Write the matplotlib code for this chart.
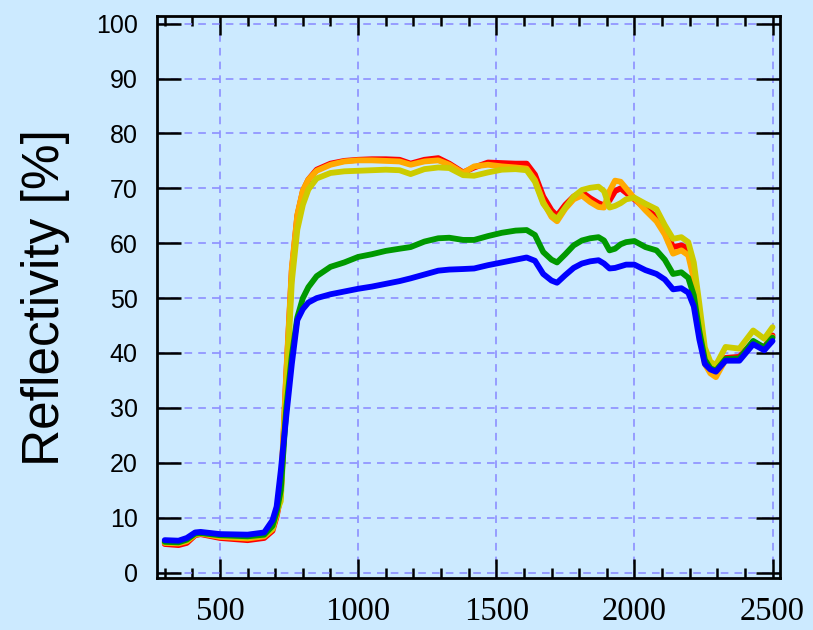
import matplotlib
matplotlib.use("Agg")
import matplotlib.pyplot as plt
from matplotlib.ticker import MultipleLocator

wavelength = [300, 350, 380, 410, 430, 500, 600, 660, 690, 705, 720, 740, 760, 780, 800,
              820, 850, 900, 950, 1000, 1050, 1100, 1150, 1190, 1240, 1290, 1330, 1380,
              1420, 1470, 1520, 1570, 1610, 1640, 1670, 1700, 1720, 1750, 1780, 1810,
              1840, 1870, 1890, 1910, 1930, 1950, 1970, 2000, 2040, 2080, 2110, 2140,
              2170, 2195, 2215, 2235, 2255, 2275, 2295, 2330, 2380, 2430, 2470, 2500]

red = [5.2, 5.0, 5.4, 6.8, 7.0, 6.3, 5.9, 6.3, 7.6, 10.2, 14.0, 36.0, 55.0, 65.0, 69.5,
       71.6, 73.4, 74.5, 75.0, 75.2, 75.3, 75.3, 75.2, 74.5, 75.2, 75.5, 74.5, 72.9,
       73.8, 74.7, 74.6, 74.5, 74.5, 72.5, 68.5, 66.0, 65.0, 67.0, 68.5, 69.3,
       68.2, 67.3, 66.9, 67.8, 69.5, 70.0, 69.2, 68.0, 66.4, 64.7, 62.6, 59.3,
       59.6, 59.0, 54.5, 44.5, 38.5, 37.0, 36.4, 39.1, 39.3, 42.0, 41.0, 43.2]

orange = [5.4, 5.3, 5.7, 6.9, 7.1, 6.5, 6.2, 6.6, 7.9, 10.5, 14.5, 36.5, 55.5, 65.2, 69.6,
          71.6, 73.2, 74.3, 74.9, 75.1, 75.1, 75.0, 74.9, 74.3, 74.9, 75.1, 74.3, 72.8,
          74.0, 74.3, 74.0, 73.8, 73.6, 71.5, 67.5, 64.8, 64.0, 66.3, 68.0, 68.7,
          67.5, 66.6, 66.5, 69.5, 71.4, 71.2, 70.0, 68.2, 66.0, 64.0, 61.6, 58.1,
          58.7, 57.8, 53.5, 44.0, 38.0, 36.3, 35.6, 38.8, 38.9, 41.8, 40.8, 42.9]

yellow = [5.5, 5.4, 5.9, 7.0, 7.2, 6.7, 6.4, 6.8, 8.0, 11.0, 13.0, 33.0, 53.0, 62.5, 67.0,
          69.8, 71.8, 72.8, 73.1, 73.2, 73.3, 73.4, 73.3, 72.6, 73.5, 73.8, 73.7, 72.4,
          72.3, 72.9, 73.4, 73.5, 73.3, 71.2, 67.2, 65.2, 64.4, 66.5, 68.5, 69.7,
          70.1, 70.3, 69.5, 66.5, 66.8, 67.3, 68.0, 68.3, 67.2, 66.2, 63.3, 60.8,
          61.1, 60.2, 56.5, 49.0, 41.0, 38.4, 37.8, 41.1, 40.8, 44.1, 42.6, 44.7]

green = [5.6, 5.5, 6.0, 7.1, 7.2, 6.8, 6.6, 6.9, 8.5, 11.0, 15.0, 30.0, 39.5, 46.5, 50.0,
         52.0, 54.0, 55.7, 56.5, 57.5, 58.0, 58.6, 59.0, 59.3, 60.3, 60.9, 61.0, 60.6,
         60.6, 61.3, 61.9, 62.3, 62.4, 61.5, 58.4, 57.0, 56.5, 58.0, 59.6, 60.5,
         60.9, 61.1, 60.5, 58.7, 59.0, 59.8, 60.2, 60.4, 59.3, 58.7, 57.0, 54.4,
         54.7, 53.7, 50.5, 44.0, 38.8, 37.2, 36.8, 38.9, 39.0, 42.2, 41.0, 42.8]

blue = [5.9, 5.8, 6.3, 7.3, 7.4, 7.0, 6.9, 7.3, 9.5, 12.0, 18.5, 28.5, 38.0, 46.0, 48.0,
        49.2, 50.0, 50.7, 51.2, 51.7, 52.1, 52.6, 53.1, 53.6, 54.3, 55.0, 55.2, 55.3,
        55.4, 56.0, 56.5, 57.0, 57.4, 56.8, 54.4, 53.2, 52.8, 54.2, 55.5, 56.3,
        56.7, 56.9, 56.3, 55.4, 55.5, 55.8, 56.1, 56.1, 55.1, 54.4, 53.4, 51.6,
        51.8, 51.0, 48.5, 42.5, 38.0, 37.0, 36.6, 38.6, 38.6, 41.6, 40.5, 42.2]

series = [(red, "#ff0000"), (orange, "#ffaa00"), (yellow, "#cccc00"),
          (green, "#009900"), (blue, "#0000ff")]

x_ticks = [500, 1000, 1500, 2000, 2500]
y_ticks = [0, 10, 20, 30, 40, 50, 60, 70, 80, 90, 100]

bg = "#cceaff"
fig = plt.figure(figsize=(8.13, 6.30), dpi=100, facecolor=bg)
ax = fig.add_axes([0.1931, 0.0825, 0.9594 - 0.1931, 0.9746 - 0.0825])
ax.set_facecolor(bg)

for vals, col in series:
    ax.plot(wavelength, vals, color=col, lw=4.2, solid_joinstyle="round",
            solid_capstyle="round", zorder=3)

ax.set_xlim(272, 2527)
ax.set_ylim(-1, 101.4)
ax.set_xticks(x_ticks)
ax.set_yticks(y_ticks)
ax.xaxis.set_minor_locator(MultipleLocator(100))

ax.grid(True, which="major", color="#8888ff", linestyle=(0, (5, 4)), lw=1.1, zorder=1)

for s in ax.spines.values():
    s.set_linewidth(2.0)
    s.set_zorder(4)

ax.tick_params(axis="x", which="major", direction="in", length=14, width=1.8,
               top=True, bottom=True, pad=13)
ax.tick_params(axis="x", which="minor", direction="in", length=7, width=1.8,
               top=True, bottom=True)
ax.tick_params(axis="y", which="major", direction="in", length=17, width=1.8,
               left=True, right=True, pad=14)

for lab in ax.get_xticklabels():
    lab.set_fontfamily("Liberation Serif")
    lab.set_fontsize(23.5)
for lab in ax.get_yticklabels():
    lab.set_fontfamily("Liberation Sans")
    lab.set_fontsize(18)

fig.text(45 / 813, 1 - 298 / 630, "Reflectivity [%]", rotation=90, ha="center",
         va="center", fontsize=37, fontfamily="Liberation Sans")

fig.savefig("out.png", dpi=100, facecolor=bg)
